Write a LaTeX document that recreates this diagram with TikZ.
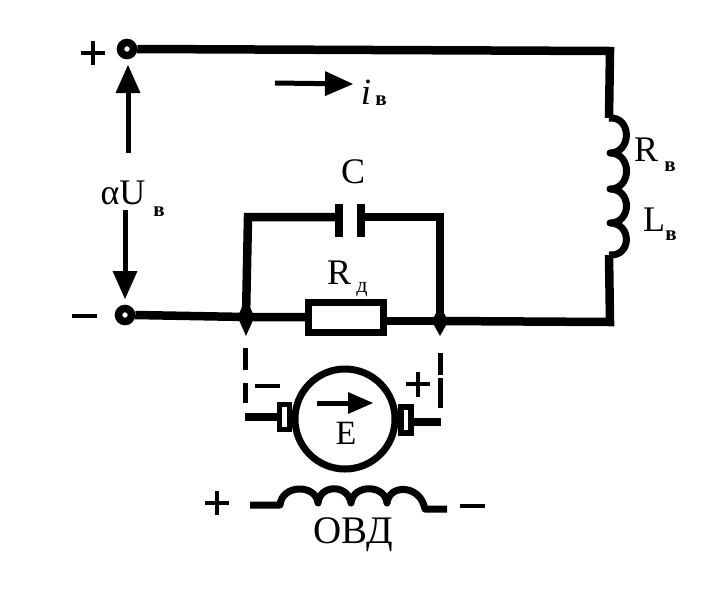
\documentclass[tikz,border=0pt]{standalone}
\usepackage{fontspec}
\setmainfont{Liberation Serif}
\usetikzlibrary{arrows.meta,shapes.geometric,calc}
\tikzset{
  wire/.style={line width=8.5pt,line cap=butt,line join=miter},
  coilw/.style={line width=7pt,line join=round},
  dash1/.style={line width=5pt,dash pattern=on 22pt off 13pt on 20pt off 100pt},
  dash2/.style={line width=5pt,dash pattern=on 22pt off 3pt on 30pt off 100pt},
  term/.style={circle,draw,line width=7.5pt,fill=white,minimum size=13pt,inner sep=0pt},
  junc/.style={diamond,fill=black,inner sep=0pt,minimum width=17pt},
  plate/.style={line width=8pt},
  tip/.style={-{Triangle[length=#1,width=25pt,line width=0pt]},line width=5pt},
  sign/.style={line width=4.5pt},
  lab/.style={inner sep=0pt,font=\fontsize{36}{38}\selectfont},
  sub/.style={inner sep=0pt,font=\fontsize{21}{22}\selectfont\bfseries},
  brush/.style={draw,line width=5.5pt,fill=white,inner sep=0pt}
}
\begin{document}
\begin{tikzpicture}[x=1pt,y=-1pt]
\useasboundingbox (0,0) rectangle (708,600);
% key points
\coordinate (tr) at (610,51);
\coordinate (cTop) at (609,118);
\coordinate (cBot) at (609,255);
\coordinate (br) at (610,322);
\coordinate (cl) at (248,217);
\coordinate (cr) at (440,217);
\node[term] (tp) at (127,49) {};
\node[term] (tm) at (125,315) {};
\node[junc,minimum height=38pt] (jl) at (246,317) {};
\node[junc,minimum height=30pt] (jr) at (440,321) {};
\node[draw,line width=7pt,fill=white,minimum width=75pt,minimum height=30pt,inner sep=0pt] (rd) at (346,317) {};
\coordinate (pl) at (339,220.5);
\coordinate (pr) at (361,220.5);
% main wires
\draw[wire] (tp.east) -- (tr) -- (cTop);
\draw[wire] (cBot) -- (br) -- (jr.center);
\draw[wire] (jr.center) -- (rd.east |- jr.center);
\draw[wire] (tm.east) -- (jl.center) -- (rd.west |- jl.center);
\draw[wire] (jl.center) -- (cl) -- (pl |- cl);
\draw[wire] (pr |- cr) -- (cr) -- (jr.center);
\draw[plate] ($(pl)+(0,-16.5)$) -- ($(pl)+(0,16.5)$);
\draw[plate] ($(pr)+(0,-16.5)$) -- ($(pr)+(0,16.5)$);
% series coil
\draw[coilw] (cTop) .. controls (632,116) and (632,153) .. (610,153)
  .. controls (632,153) and (632,189) .. (610,189)
  .. controls (632,189) and (632,223) .. (610,223)
  .. controls (632,223) and (632,257) .. (cBot);
% arrows
\coordinate (uA) at (128,153); \coordinate (uB) at (128,65);
\draw[tip=28pt] (uA) -- (uB);
\coordinate (dA) at (125,210); \coordinate (dB) at (125,299);
\draw[tip=28pt] (dA) -- (dB);
\coordinate (iA) at (275,83); \coordinate (iB) at (353,84);
\draw[tip=28pt] (iA) -- (iB);
% signs
\draw[sign] (81,53) -- (105,53) (93,41) -- (93,65);
\draw[sign] (72,316) -- (97,316);
\draw[sign] (255,386) -- (280,386);
\draw[sign] (406,384) -- (430,384) (418,372) -- (418,397);
\draw[sign] (205,503) -- (229,503) (217,491) -- (217,515);
\draw[sign] (460,506) -- (485,506);
% dashed links
\coordinate (dl1) at (245,348); \coordinate (dl2) at (245,403);
\coordinate (dr1) at (440,353); \coordinate (dr2) at (440,408);
\draw[dash1] (dl1) -- (dl2);
\draw[dash2] (dr1) -- (dr2);
% motor
\node[circle,draw,line width=7pt,minimum size=100pt,inner sep=0pt] (m) at (345,419) {};
\node[brush,minimum width=10pt,minimum height=25pt] (bl) at (284.5,417) {};
\node[brush,minimum width=10pt,minimum height=26pt] (brr) at (406,420) {};
\coordinate (ll) at (245,417);
\coordinate (lr) at (441,422);
\draw[wire] (ll) -- (bl.west);
\draw[line width=7.5pt] (brr.east |- lr) -- (lr);
\coordinate (eA) at (317,403); \coordinate (eB) at (373,403);
\draw[-{Triangle[length=25pt,width=22pt,line width=0pt]},line width=5pt] (eA) -- (eB);
\node[lab,font=\fontsize{34}{36}\selectfont] (e) at (346,433) {Е};
% field coil
\coordinate (f1) at (250,505);
\coordinate (f2) at (447,509);
\draw[coilw] (f1) -- (280,505) .. controls (282,484) and (316,484) .. (318,503)
  .. controls (320,484) and (348,484) .. (351,503)
  .. controls (353,484) and (385,484) .. (387,503)
  .. controls (389,484) and (420,484) .. (425,509) -- (f2);
% labels
\node[lab] (lC) at (353,172) {С};
\node[lab] (lR) at (339,273) {R};
\node[sub,font=\fontsize{22}{22}\selectfont] (lRs) at (362,290) {д};
\node[lab] (lU) at (123,193) {αU};
\node[sub] (lUs) at (159,212) {в};
\node[lab,font=\fontsize{37}{38}\selectfont\itshape] (li) at (366,92) {i};
\node[sub] (lis) at (381,101) {в};
\node[lab] (lRv) at (646,150) {R};
\node[sub] (lRvs) at (670,167) {в};
\node[lab] (lL) at (654,220) {L};
\node[sub] (lLs) at (671,236) {в};
\node[lab,font=\fontsize{39}{40}\selectfont] (lO) at (353,535) {ОВД};
\end{tikzpicture}
\end{document}
